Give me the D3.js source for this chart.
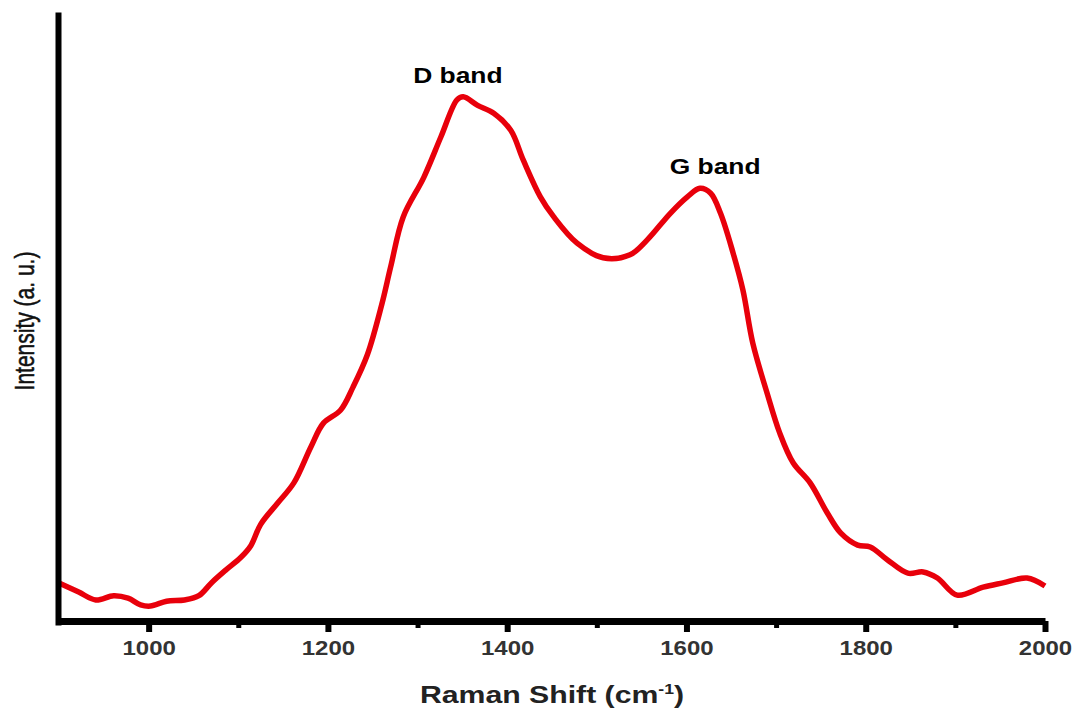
<!DOCTYPE html>
<html>
<head>
<meta charset="utf-8">
<script src="https://cdn.jsdelivr.net/npm/d3@7"></script>
<style>
  body { margin: 0; background: #fff; }
  svg { display: block; }
</style>
</head>
<body>
<script>
  // Raman spectrum
  var shift = [900, 922, 941, 961, 977, 991, 1002, 1020, 1040, 1056, 1070, 1086, 1103, 1114, 1125,
               1144, 1162, 1181, 1195, 1214, 1228, 1244, 1260, 1270, 1284, 1307, 1326, 1344, 1351,
               1367, 1385, 1404, 1418, 1437, 1452, 1478, 1507, 1537, 1556, 1582, 1601, 1615, 1627,
               1638, 1652, 1663, 1674, 1690, 1704, 1719, 1738, 1757, 1772, 1791, 1805, 1824, 1847,
               1864, 1880, 1902, 1931, 1953, 1980, 2000];
  var intensity = [6.9, 5.4, 4.1, 4.8, 4.4, 3.3, 3.1, 3.9, 4.1, 4.8, 6.9, 9.0, 11.1, 13.0, 16.5,
                   20.0, 23.3, 29.2, 33.1, 35.2, 39.0, 44.3, 52.5, 58.7, 66.9, 73.4, 80.0, 86.1, 86.6,
                   85.2, 83.9, 81.1, 76.2, 70.2, 66.9, 62.6, 60.2, 60.7, 63.1, 67.5, 70.2, 71.6, 70.8,
                   67.5, 61.0, 54.9, 46.2, 38.0, 31.5, 26.6, 23.3, 18.4, 15.1, 13.1, 12.8, 10.7, 8.5,
                   8.7, 7.7, 4.9, 6.2, 6.9, 7.7, 6.4];
  var majorTicks = [1000, 1200, 1400, 1600, 1800, 2000];
  var minorTicks = [1100, 1300, 1500, 1700, 1900];
  var bandNames = ["D band", "G band"];
  var bandPos = [1345, 1632];
  var bandHeight = [86.6, 71.6];

  var svgWidth = 1075, svgHeight = 708;
  var stretch = 1.2;   // the source picture is stretched sideways, text too
  var svg = d3.select("body").append("svg")
              .attr("width", svgWidth)
              .attr("height", svgHeight);

  var x = d3.scaleLinear().domain([900, 2000]).range([59, 1045]);
  var y = d3.scaleLinear().domain([0, 100.5]).range([625, 12]);

  var line = d3.line()
               .x(function(d, i) { return x(shift[i]); })
               .y(function(d) { return y(d); })
               .curve(d3.curveCatmullRom);

  svg.append("path")
     .attr("d", line(intensity))
     .attr("fill", "none")
     .attr("stroke", "#e8000b")
     .attr("stroke-width", 5.5)
     .attr("stroke-linejoin", "round");

  // minor ticks (no labels)
  var minorAxis = svg.append("g")
     .attr("transform", "translate(0,621)")
     .call(d3.axisBottom(x).tickValues(minorTicks).tickSize(7).tickFormat(""));
  minorAxis.select(".domain").remove();
  minorAxis.selectAll("line").attr("stroke", "#000").attr("stroke-width", 5);

  var xAxis = svg.append("g")
     .attr("transform", "translate(0,621)")
     .call(d3.axisBottom(x).tickValues(majorTicks).tickFormat(d3.format("d"))
             .tickSize(11).tickSizeOuter(0).tickPadding(12));
  xAxis.select(".domain").attr("stroke", "#000").attr("stroke-width", 7);
  xAxis.selectAll(".tick line").attr("stroke", "#000").attr("stroke-width", 6);
  xAxis.selectAll(".tick text")
       .attr("fill", "#333")
       .attr("dy", null)
       .attr("y", 34)
       .attr("transform", "scale(" + stretch + ",1)")
       .style("font-family", "Liberation Sans, Arial, sans-serif")
       .style("font-size", "20px")
       .style("font-weight", "bold");

  var yAxis = svg.append("g")
     .attr("transform", "translate(58,0)")
     .call(d3.axisLeft(y).tickValues([]).tickSizeOuter(0));
  yAxis.select(".domain").attr("stroke", "#000").attr("stroke-width", 6);

  var xTitle = svg.append("text")
     .attr("transform", "translate(552,703) scale(1.26,1)")
     .attr("text-anchor", "middle")
     .style("font-family", "Liberation Sans, Arial, sans-serif")
     .style("font-size", "24px")
     .style("font-weight", "bold")
     .attr("fill", "#222");
  xTitle.append("tspan").text("Raman Shift (cm");
  xTitle.append("tspan").attr("dy", -9).style("font-size", "14px").text("-1");
  xTitle.append("tspan").attr("dy", 9).text(")");

  svg.append("text")
     .attr("transform", "translate(34,321) scale(1.3,1) rotate(-90)")
     .attr("text-anchor", "middle")
     .style("font-family", "Liberation Sans, Arial, sans-serif")
     .style("font-size", "21px")
     .style("font-weight", "500")
     .attr("fill", "#111")
     .attr("stroke", "#111")
     .attr("stroke-width", 0.4)
     .text("Intensity (a. u.)");

  svg.selectAll(".band").data(bandNames).enter().append("text")
     .attr("class", "band")
     .attr("transform", function(d, i) {
        return "translate(" + x(bandPos[i]) + "," + (y(bandHeight[i]) - 14) + ") scale(" + stretch + ",1)";
     })
     .attr("text-anchor", "middle")
     .style("font-family", "Liberation Sans, Arial, sans-serif")
     .style("font-size", "22px")
     .style("font-weight", "bold")
     .attr("fill", "#000")
     .text(function(d) { return d; });
</script>
</body>
</html>
